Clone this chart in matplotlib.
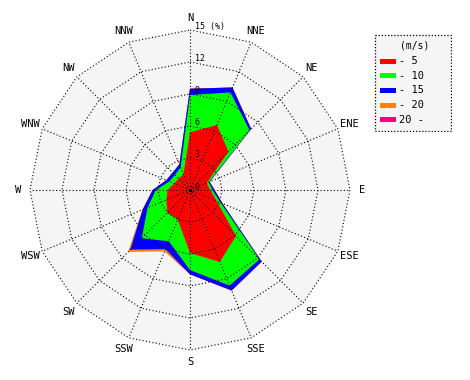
import numpy as np
import matplotlib.pyplot as plt
from matplotlib.patches import Rectangle

# Wind rose: frequency (%) per direction and speed class
dirs = ["N", "NNE", "NE", "ENE", "E", "ESE", "SE", "SSE",
        "S", "SSW", "SW", "WSW", "W", "WNW", "NW", "NNW"]
spd_5 = [5.4, 6.6, 5.1, 1.7, 1.9, 2.7, 6.1, 7.3, 5.9, 3.0, 3.0, 2.4, 2.1, 1.6, 1.5, 1.6]
spd_10 = [3.5, 3.3, 2.8, 0.2, 0.2, 0.4, 3.1, 2.4, 1.6, 2.2, 3.4, 1.9, 1.1, 0.5, 0.5, 0.7]
spd_15 = [0.6, 0.5, 0.2, 0.1, 0.2, 0.2, 0.3, 0.5, 0.4, 0.8, 1.5, 0.5, 0.3, 0.3, 0.3, 0.3]
spd_20 = [0.0, 0.0, 0.0, 0.0, 0.0, 0.0, 0.0, 0.0, 0.0, 0.2, 0.25, 0.0, 0.0, 0.0, 0.0, 0.0]
spd_over = [0.0] * 16

classes = ["- 5", "- 10", "- 15", "- 20", "20 -"]
colors = ["#ff0000", "#00ff00", "#0000ff", "#ff8000", "#ff0080"]
rings = [3, 6, 9, 12, 15]
ring_labels = ["3", "6", "9", "12", "15 (%)"]

ang = np.deg2rad(np.arange(len(dirs)) * 22.5)


def xy(r):
    r = np.asarray(r, dtype=float)
    return r * np.sin(ang), r * np.cos(ang)


font = "DejaVu Sans Mono"
fig = plt.figure(figsize=(4.7, 3.8), dpi=100)
ax = fig.add_axes([0, 0, 380 / 470, 1])
lim = 190 / (160 / 15)
ax.set_xlim(-lim, lim)
ax.set_ylim(-lim, lim)
ax.set_aspect("equal")
ax.axis("off")

# background of the rose
bx, by = xy([15] * 16)
ax.fill(bx, by, color="#f5f5f5", lw=0, zorder=0)

# stacked polygons, outer first
cum = np.cumsum(np.array([spd_5, spd_10, spd_15, spd_20, spd_over]), axis=0)
for i in reversed(range(len(classes))):
    px, py = xy(cum[i])
    ax.fill(px, py, color=colors[i], lw=0, zorder=1)

# dotted grid
dot = (0, (1, 2))
for r in rings:
    gx, gy = xy([r] * 16)
    ax.plot(np.append(gx, gx[0]), np.append(gy, gy[0]), color="k", ls=dot, lw=0.8, zorder=2)
for a in ang:
    ax.plot([0, 15 * np.sin(a)], [0, 15 * np.cos(a)], color="k", ls=dot, lw=0.8, zorder=2)
ax.plot(0, 0, "k.", ms=3, zorder=3)

# labels
for d, a in zip(dirs, ang):
    ax.text(16.15 * np.sin(a), 16.15 * np.cos(a), d, ha="center", va="center",
            fontsize=7.5, family=font, zorder=3)
ax.text(0.45, 0.25, "0", ha="left", va="center", fontsize=6, family=font, zorder=3)
for r, lab in zip(rings, ring_labels):
    ax.text(0.45, r + 0.3, lab, ha="left", va="center", fontsize=6, family=font, zorder=3)

# legend box (pixel coords)
lx = fig.add_axes([374 / 470, 1 - 132 / 380, 78 / 470, 98 / 380])
lx.set_xlim(0, 78)
lx.set_ylim(98, 0)
lx.axis("off")
lx.add_patch(Rectangle((1, 1), 76, 96, fill=True, fc="#f5f5f5", ec="k", ls=(0, (1, 1.5)), lw=0.9))
lx.text(41, 11, "(m/s)", ha="center", va="center", fontsize=7, family=font)
for i, (lab, c) in enumerate(zip(classes, colors)):
    yy = 27 + i * 14.7
    lx.add_patch(Rectangle((6, yy - 2.5), 16, 5, color=c, lw=0))
    lx.text(25, yy, lab, ha="left", va="center", fontsize=7.5, family=font)

fig.savefig("out.png", dpi=100)
